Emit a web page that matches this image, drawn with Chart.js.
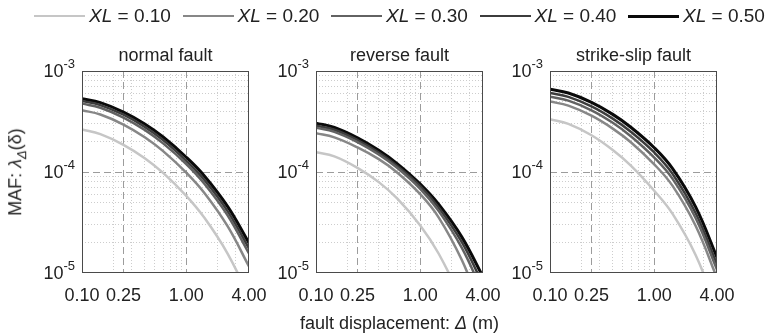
<!DOCTYPE html>
<html>
<head>
<meta charset="utf-8">
<script src="https://cdn.jsdelivr.net/npm/chart.js@4.4.1/dist/chart.umd.min.js"></script>
<style>
  body { margin: 0; background: #fff; }
  #wrap { position: relative; width: 766px; height: 334px; font-family: 'Liberation Sans', Arial, sans-serif; color: #222; overflow: hidden; }
  #wrap canvas { position: absolute; left: 0; top: 0; }
  .leg { position: absolute; top: 5px; height: 22px; display: flex; align-items: center; font-size: 19px; white-space: nowrap; }
  .leg .ln { display: inline-block; width: 51px; margin-right: 4px; }
  #ytitle { position: absolute; left: 17px; top: 172px; transform: translate(-50%, -50%) rotate(-90deg); font-size: 18px; white-space: nowrap; }
  #ytitle sub { font-size: 13px; }
  #xtitle { position: absolute; left: 399.5px; top: 323px; transform: translate(-50%, -50%); font-size: 18px; white-space: nowrap; }
</style>
</head>
<body>
<div id="wrap">
  <canvas id="c0" width="766" height="334"></canvas>
  <canvas id="c1" width="766" height="334"></canvas>
  <canvas id="c2" width="766" height="334"></canvas>
  <div id="ytitle">MAF: <i>λ</i><sub><i>Δ</i></sub>(δ)</div>
  <div id="xtitle">fault displacement: <i>Δ</i> (m)</div>
</div>
<script>
const displacement = [0.1, 0.15, 0.25, 0.4, 0.6, 1.0, 1.5, 2.5, 4.0];
const xlLabels = ['0.10', '0.20', '0.30', '0.40', '0.50'];
const panelTitles = ['normal fault', 'reverse fault', 'strike-slip fault'];

// normal fault
const normalXL10 = [2.64e-4, 2.37e-4, 1.86e-4, 1.37e-4, 9.79e-5, 5.81e-5, 3.50e-5, 1.55e-5, 5.85e-6];
const normalXL20 = [4.09e-4, 3.71e-4, 2.95e-4, 2.21e-4, 1.61e-4, 9.86e-5, 6.16e-5, 2.89e-5, 1.16e-5];
const normalXL30 = [4.76e-4, 4.33e-4, 3.46e-4, 2.61e-4, 1.92e-4, 1.20e-4, 7.62e-5, 3.71e-5, 1.56e-5];
const normalXL40 = [5.06e-4, 4.60e-4, 3.69e-4, 2.80e-4, 2.07e-4, 1.29e-4, 8.31e-5, 4.08e-5, 1.75e-5];
const normalXL50 = [5.33e-4, 4.86e-4, 3.92e-4, 2.99e-4, 2.22e-4, 1.40e-4, 9.09e-5, 4.54e-5, 1.98e-5];

// reverse fault
const reverseXL10 = [1.57e-4, 1.43e-4, 1.10e-4, 7.94e-5, 5.47e-5, 2.96e-5, 1.56e-5, 5.34e-6, 1.57e-6];
const reverseXL20 = [2.42e-4, 2.20e-4, 1.75e-4, 1.34e-4, 9.90e-5, 6.03e-5, 3.56e-5, 1.35e-5, 4.07e-6];
const reverseXL30 = [2.75e-4, 2.50e-4, 1.98e-4, 1.49e-4, 1.10e-4, 6.82e-5, 4.12e-5, 1.78e-5, 6.32e-6];
const reverseXL40 = [2.88e-4, 2.62e-4, 2.07e-4, 1.56e-4, 1.15e-4, 7.25e-5, 4.46e-5, 2.03e-5, 7.70e-6];
const reverseXL50 = [3.04e-4, 2.76e-4, 2.18e-4, 1.64e-4, 1.21e-4, 7.59e-5, 4.80e-5, 2.28e-5, 9.15e-6];

// strike-slip fault
const strikeXL10 = [3.33e-4, 2.99e-4, 2.31e-4, 1.65e-4, 1.15e-4, 6.52e-5, 3.85e-5, 1.50e-5, 4.41e-6];
const strikeXL20 = [4.98e-4, 4.54e-4, 3.61e-4, 2.69e-4, 1.96e-4, 1.19e-4, 7.28e-5, 2.92e-5, 8.93e-6];
const strikeXL30 = [5.57e-4, 5.09e-4, 4.08e-4, 3.07e-4, 2.25e-4, 1.39e-4, 8.55e-5, 3.48e-5, 1.08e-5];
const strikeXL40 = [6.07e-4, 5.55e-4, 4.47e-4, 3.38e-4, 2.49e-4, 1.56e-4, 9.59e-5, 3.90e-5, 1.22e-5];
const strikeXL50 = [6.59e-4, 6.05e-4, 4.89e-4, 3.72e-4, 2.76e-4, 1.74e-4, 1.08e-4, 4.49e-5, 1.43e-5];

// ticks
const xTicks = [0.1, 0.2, 0.25, 0.3, 0.4, 0.5, 0.6, 0.7, 0.8, 0.9, 1, 2, 3, 4];
const xTickLabels = [0.1, 0.25, 1, 4];
const yTicks = [1e-5, 2e-5, 3e-5, 4e-5, 5e-5, 6e-5, 7e-5, 8e-5, 9e-5,
                1e-4, 2e-4, 3e-4, 4e-4, 5e-4, 6e-4, 7e-4, 8e-4, 9e-4, 1e-3];
const yTickLabels = [1e-5, 1e-4, 1e-3];
const xDashed = [0.25, 1];
const yDashed = [1e-4];

const panelSeries = [
    [normalXL10, normalXL20, normalXL30, normalXL40, normalXL50],
    [reverseXL10, reverseXL20, reverseXL30, reverseXL40, reverseXL50],
    [strikeXL10, strikeXL20, strikeXL30, strikeXL40, strikeXL50]
];

const lineColors = ['#c6c6c6', '#878787', '#626262', '#3c3c3c', '#0a0a0a'];
const lineWidths = [2.5, 2.5, 2.5, 2.5, 3];
const plotLeft = [82, 316, 550];
const plotRight = [249, 483, 717];
const FONT = "'Liberation Sans', Arial, sans-serif";

Chart.defaults.font.family = FONT;
Chart.defaults.color = '#222';

const near = (a, b) => Math.abs(Math.log10(a) - Math.log10(b)) < 1e-6;
const isIn = (v, list) => list.some(t => near(v, t));

// legend (html so XL can be italic)
const wrap = document.getElementById('wrap');
xlLabels.forEach((lab, i) => {
    const d = document.createElement('div');
    d.className = 'leg';
    d.style.left = (34 + i * 148.5) + 'px';
    d.innerHTML = '<span class="ln" style="background:' + lineColors[i] + ';height:' + lineWidths[i] + 'px"></span><span><i>XL</i> = ' + lab + '</span>';
    wrap.appendChild(d);
});

const framePlugin = {
    id: 'frame',
    beforeDatasetsDraw(chart) {
        const { ctx, chartArea: a, scales: { x, y } } = chart;
        ctx.save();
        ctx.strokeStyle = '#9c9c9c';
        ctx.lineWidth = 1;
        ctx.setLineDash([7, 4]);
        xDashed.forEach(v => {
            const px = Math.round(x.getPixelForValue(v)) + 0.5;
            ctx.beginPath(); ctx.moveTo(px, a.top); ctx.lineTo(px, a.bottom); ctx.stroke();
        });
        yDashed.forEach(v => {
            const py = Math.round(y.getPixelForValue(v)) + 0.5;
            ctx.beginPath(); ctx.moveTo(a.left, py); ctx.lineTo(a.right, py); ctx.stroke();
        });
        ctx.restore();
    },
    afterDatasetsDraw(chart) {
        const { ctx, chartArea: a, scales: { y } } = chart;
        ctx.save();
        ctx.strokeStyle = '#4a4a4a';
        ctx.lineWidth = 1;
        ctx.strokeRect(a.left + 0.5, a.top + 0.5, a.right - a.left - 1, a.bottom - a.top - 1);
        // y tick labels as 10 with a raised exponent
        ctx.fillStyle = '#222';
        ctx.textAlign = 'right';
        ctx.textBaseline = 'middle';
        yTickLabels.forEach(v => {
            const py = y.getPixelForValue(v);
            const exp = String(Math.round(Math.log10(v)));
            const right = a.left - 7;
            ctx.font = '13px ' + FONT;
            const ew = ctx.measureText(exp).width;
            ctx.fillText(exp, right, py - 7);
            ctx.font = '18px ' + FONT;
            ctx.fillText('10', right - ew, py + 1.5);
        });
        ctx.restore();
    }
};

panelSeries.forEach((series, p) => {
    const ctx = document.getElementById('c' + p).getContext('2d');
    new Chart(ctx, {
        type: 'line',
        data: {
            datasets: series.map((vals, i) => ({
                label: 'XL = ' + xlLabels[i],
                data: displacement.map((d, k) => ({ x: d, y: vals[k] })),
                borderColor: lineColors[i],
                borderWidth: lineWidths[i],
                pointRadius: 0,
                fill: false,
                tension: 0.4,
                clip: 0
            }))
        },
        options: {
            responsive: false,
            animation: false,
            events: [],
            layout: { padding: { left: plotLeft[p] - 70, right: 766 - plotRight[p], top: 45.4, bottom: 31 } },
            plugins: {
                legend: { display: false },
                tooltip: { enabled: false },
                title: {
                    display: true, text: panelTitles[p], fullSize: false,
                    font: { size: 18, weight: 'normal' }, color: '#222',
                    padding: { top: 0, bottom: 4 }
                }
            },
            scales: {
                x: {
                    type: 'logarithmic', min: 0.1, max: 4,
                    afterBuildTicks: s => { s.ticks = xTicks.map(v => ({ value: v })); },
                    afterFit: s => { s.height = 30; s.paddingLeft = 0; s.paddingRight = 0; },
                    ticks: {
                        autoSkip: false, maxRotation: 0, padding: 12,
                        font: { size: 18 }, color: '#222',
                        callback: v => isIn(v, xTickLabels) ? Number(v).toFixed(2) : ''
                    },
                    grid: {
                        drawTicks: false, lineWidth: 1,
                        color: c => (isIn(c.tick.value, xDashed) || isIn(c.tick.value, [0.1, 4])) ? 'rgba(0,0,0,0)' : '#cdcdcd'
                    },
                    border: { display: false, dash: [1, 2] }
                },
                y: {
                    type: 'logarithmic', min: 1e-5, max: 1e-3,
                    afterBuildTicks: s => { s.ticks = yTicks.map(v => ({ value: v })); },
                    afterFit: s => { s.width = 70; s.paddingTop = 0; s.paddingBottom = 0; },
                    ticks: { autoSkip: false, padding: 10, callback: () => '' },
                    grid: {
                        drawTicks: false, lineWidth: 1,
                        color: c => (isIn(c.tick.value, yDashed) || isIn(c.tick.value, [1e-5, 1e-3])) ? 'rgba(0,0,0,0)' : '#cdcdcd'
                    },
                    border: { display: false, dash: [1, 2] }
                }
            }
        },
        plugins: [framePlugin]
    });
});
</script>
</body>
</html>
